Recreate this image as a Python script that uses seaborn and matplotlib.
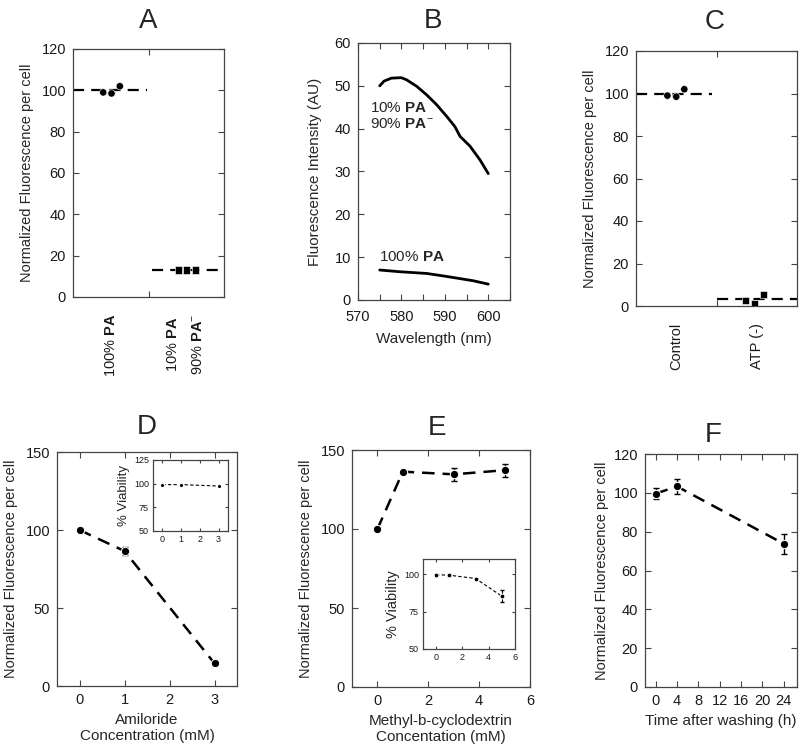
import numpy as np
import pandas as pd
import matplotlib
matplotlib.use("Agg")
import matplotlib.pyplot as plt
from matplotlib.ticker import MultipleLocator
import seaborn as sns

# ---- data ----
# A: per-cell fluorescence, liposome composition
a_groups = ["100% $\\mathbf{PA}$", "10% $\\mathbf{PA}$\n90% $\\mathbf{PA}^{-}$"]
a_pa100 = [99, 98.5, 102]
a_pa10 = [13, 13, 13]
a_means = [100, 13]

# B: emission spectra
b_wl_hi = [575, 576, 577.7, 580, 581.2, 583.5, 585.8, 588.1, 590.4, 592.3, 593.5, 595.8, 598.1, 600]
b_int_hi = [50.0, 51.1, 51.8, 51.9, 51.4, 49.9, 47.9, 45.6, 42.9, 40.5, 38.2, 35.9, 32.7, 29.5]
b_wl_lo = [575, 579.6, 585.8, 590.4, 596.5, 600]
b_int_lo = [7.0, 6.6, 6.2, 5.5, 4.5, 3.7]

# C: ATP depletion
c_groups = ["Control", "ATP (-)"]
c_control = [99, 98.5, 102]
c_atp = [2.6, 1.3, 5.4]
c_means = [100, 3.3]

# D: amiloride
d_conc = [0, 1, 3]
d_fluo = [100, 86.5, 14.5]
d_err = [1, 2.5, 1]
d_viab = [99, 99, 97.5]

# E: methyl-b-cyclodextrin
e_conc = [0, 1, 3, 5]
e_fluo = [100, 136.3, 134.6, 137.2]
e_err = [1, 1, 4.3, 4.0]
e_viab = [99.5, 99.2, 97, 85.2]
e_viab_err = [0.5, 0.5, 0.5, 4]

# F: recovery after washing
f_time = [0, 4, 24]
f_fluo = [99.6, 103.3, 73.8]
f_err = [3, 3.8, 5.1]

sns.set_theme(style="ticks")
plt.rcParams["font.family"] = ["Liberation Sans", "DejaVu Sans"]
plt.rcParams["mathtext.fontset"] = "custom"
plt.rcParams["mathtext.rm"] = "Liberation Sans"
plt.rcParams["mathtext.bf"] = "Liberation Sans:bold"
plt.rcParams["axes.edgecolor"] = "#444444"
plt.rcParams["axes.linewidth"] = 0.9

W, H = 800, 749
fig = plt.figure(figsize=(8, 7.49), dpi=100)


def px_axes(l, t, r, b):
    return fig.add_axes([l / W, 1 - b / H, (r - l) / W, (b - t) / H])


def panel_title(letter, x, y):
    fig.text(x / W, 1 - y / H, letter, fontsize=20, ha="center", va="center")


def style(ax, size=10.5):
    ax.tick_params(which="both", direction="in", top=True, right=True, length=4, width=0.8,
                   color="#444444", labelsize=size, labelcolor="#1a1a1a", pad=5)


ylab = "Normalized Fluorescence per cell"
dash = (5, 3.2)

# ---------- A ----------
ax = px_axes(73, 49, 224, 297)
dfa = pd.DataFrame({"x": [0 - 0.1, 0.01, 0.12] + [1 - 0.1, 1.0, 1.12],
                    "y": a_pa100 + a_pa10,
                    "g": ["c"] * 3 + ["s"] * 3})
ax.hlines(a_means[0], -0.5, 0.48, colors="black", linestyles=(0, dash), lw=1.6)
ax.hlines(a_means[1], 0.55, 1.5, colors="black", linestyles=(0, dash), lw=1.6)
sns.scatterplot(data=dfa, x="x", y="y", style="g", markers={"c": "o", "s": "s"},
                color="black", s=28, legend=False, ax=ax, zorder=3)
ax.set_xlim(-0.5, 1.5)
ax.set_ylim(0, 120)
ax.set_yticks(range(0, 121, 20))
ax.set_xticks([0, 1], a_groups, rotation=90, va="top", fontsize=11)
for lab in ax.get_xticklabels():
    lab.set_linespacing(2.0)
ax.set_xticks([0.5], minor=True)
style(ax)
ax.tick_params(axis="x", which="major", length=0, pad=12, top=False)
ax.set_xlabel("")
ax.set_ylabel(ylab, fontsize=10.5, labelpad=5)
panel_title("A", 148, 21)

# ---------- B ----------
ax = px_axes(358, 43, 510, 300)
sns.lineplot(x=b_wl_hi, y=b_int_hi, color="black", lw=2, ax=ax)
sns.lineplot(x=b_wl_lo, y=b_int_lo, color="black", lw=2, ax=ax)
ax.text(572.8, 44.8, "10% $\\mathbf{PA}$", fontsize=11, va="center")
ax.text(572.8, 40.9, "90% $\\mathbf{PA}^{-}$", fontsize=11, va="center")
ax.text(574.8, 10.1, "100% $\\mathbf{PA}$", fontsize=11, va="center")
ax.set_xlim(570, 605)
ax.set_ylim(0, 60)
ax.set_xticks([570, 580, 590, 600])
ax.xaxis.set_minor_locator(MultipleLocator(5))
ax.set_yticks(range(0, 61, 10))
style(ax)
ax.tick_params(axis="x", pad=7)
ax.set_xlabel("Wavelength (nm)", fontsize=11, labelpad=6)
ax.set_ylabel("Fluorescence Intensity (AU)", fontsize=11, labelpad=9)
panel_title("B", 433, 21)

# ---------- C ----------
ax = px_axes(636, 51, 797, 306)
dfc = pd.DataFrame({"x": [-0.11, 0.0, 0.1] + [1 - 0.14, 1 - 0.03, 1.08],
                    "y": c_control + c_atp,
                    "g": ["c"] * 3 + ["s"] * 3})
ax.hlines(c_means[0], -0.5, 0.45, colors="black", linestyles=(0, dash), lw=1.6)
ax.hlines(c_means[1], 0.5, 1.5, colors="black", linestyles=(0, dash), lw=1.6)
sns.scatterplot(data=dfc, x="x", y="y", style="g", markers={"c": "o", "s": "s"},
                color="black", s=28, legend=False, ax=ax, zorder=3)
ax.set_xlim(-0.5, 1.5)
ax.set_ylim(0, 120)
ax.set_yticks(range(0, 121, 20))
ax.set_xticks([0, 1], c_groups, rotation=90, va="top", fontsize=11)
ax.set_xticks([0.5], minor=True)
style(ax)
ax.tick_params(axis="x", which="major", length=0, pad=12, top=False)
ax.set_xlabel("")
ax.set_ylabel(ylab, fontsize=10.5, labelpad=5)
panel_title("C", 715, 22)

# ---------- D ----------
ax = px_axes(57, 452, 237, 686)
ax.errorbar(d_conc, d_fluo, yerr=d_err, fmt="none", ecolor="black", capsize=2, lw=1)
sns.lineplot(x=d_conc, y=d_fluo, color="black", lw=1.8, marker="o", markersize=6,
             ax=ax)
ax.lines[-1].set_dashes(dash)
ax.set_xlim(-0.5, 3.5)
ax.set_ylim(0, 150)
ax.set_xticks([0, 1, 2, 3])
ax.set_yticks([0, 50, 100, 150])
style(ax)
ax.set_xlabel("Amiloride\nConcentration (mM)", fontsize=11)
ax.set_ylabel(ylab, fontsize=10.5, labelpad=5)
panel_title("D", 147, 427)

ins = px_axes(153, 460, 228, 531)
sns.lineplot(x=d_conc, y=d_viab, color="black", lw=0.8, marker="o", markersize=3,
             ax=ins)
ins.lines[-1].set_dashes((3, 2))
ins.set_xlim(-0.5, 3.5)
ins.set_ylim(50, 125)
ins.set_xticks([0, 1, 2, 3])
ins.set_yticks([50, 75, 100, 125])
style(ins, size=6.5)
ins.tick_params(length=2.5, pad=3)
ins.set_ylabel("% Viability", fontsize=9.5, labelpad=3)

# ---------- E ----------
ax = px_axes(352, 450, 530, 687)
ax.errorbar(e_conc, e_fluo, yerr=e_err, fmt="none", ecolor="black", capsize=2, lw=1)
sns.lineplot(x=e_conc, y=e_fluo, color="black", lw=1.8, marker="o", markersize=6,
             ax=ax)
ax.lines[-1].set_dashes(dash)
ax.set_xlim(-1, 6)
ax.set_ylim(0, 150)
ax.set_xticks([0, 2, 4, 6])
ax.set_yticks([0, 50, 100, 150])
style(ax)
ax.set_xlabel("Methyl-b-cyclodextrin\nConcentation (mM)", fontsize=11)
ax.set_ylabel(ylab, fontsize=10.5, labelpad=5)
panel_title("E", 437, 428)

ins = px_axes(423, 559, 515, 649)
ins.errorbar(e_conc, e_viab, yerr=e_viab_err, fmt="none", ecolor="black", capsize=1.5, lw=0.8)
sns.lineplot(x=e_conc, y=e_viab, color="black", lw=0.8, marker="o", markersize=3.5,
             ax=ins)
ins.lines[-1].set_dashes((3, 2))
ins.set_xlim(-1, 6)
ins.set_ylim(50, 110)
ins.set_xticks([0, 2, 4, 6])
ins.set_yticks([50, 75, 100])
style(ins, size=6.5)
ins.tick_params(length=2.5, pad=3)
ins.set_ylabel("% Viability", fontsize=10.5, labelpad=3)

# ---------- F ----------
ax = px_axes(645, 454, 797, 687)
ax.errorbar(f_time, f_fluo, yerr=f_err, fmt="none", ecolor="black", capsize=2, lw=1)
sns.lineplot(x=f_time, y=f_fluo, color="black", lw=1.8, marker="o", markersize=6,
             ax=ax)
ax.lines[-1].set_dashes(dash)
ax.set_xlim(-2, 26.5)
ax.set_ylim(0, 120)
ax.set_xticks(range(0, 25, 4))
ax.set_yticks(range(0, 121, 20))
style(ax)
ax.set_xlabel("Time after washing (h)", fontsize=11)
ax.set_ylabel(ylab, fontsize=10.5, labelpad=3)
panel_title("F", 713, 435)

fig.savefig("out.png", dpi=100, facecolor="white")
